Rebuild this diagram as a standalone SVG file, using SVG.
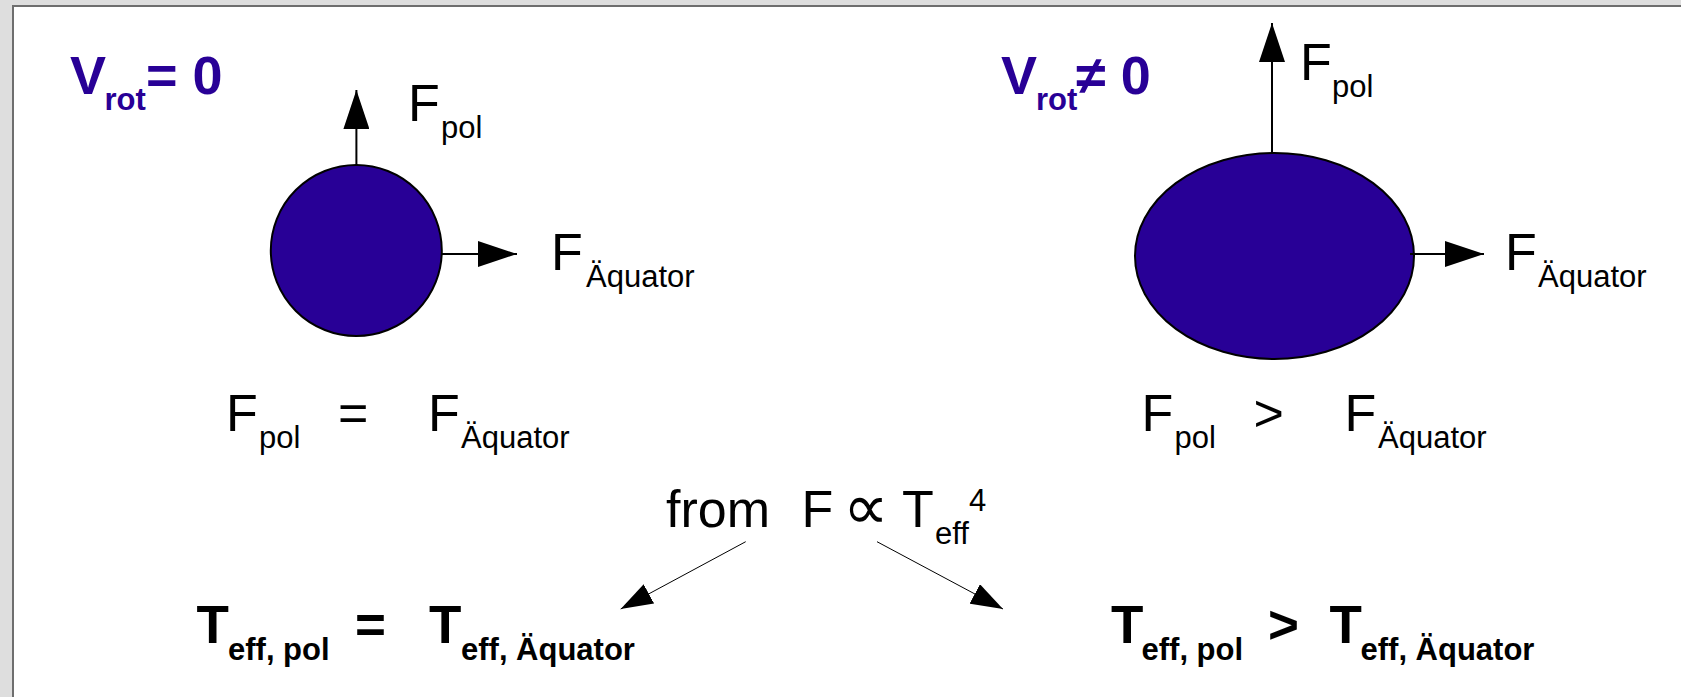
<svg xmlns="http://www.w3.org/2000/svg" width="1681" height="697" viewBox="0 0 1681 697">
  <defs>
    <marker id="bigHead" markerUnits="userSpaceOnUse" markerWidth="39" markerHeight="26" refX="39" refY="13" orient="auto">
      <path d="M0,0 L39,13 L0,26 z" fill="#000"/>
    </marker>
    <marker id="smallHead" markerUnits="userSpaceOnUse" markerWidth="32" markerHeight="22" refX="32" refY="11" orient="auto">
      <path d="M0,0 L32,11 L0,22 z" fill="#000"/>
    </marker>
    <style>
      text { font-family: "Liberation Sans", Arial, sans-serif; fill: #000; }
      .main { font-size: 52px; }
      .sub { font-size: 31px; }
      .title { font-weight: bold; fill: #280096; }
      .bold { font-weight: bold; }
      .prop { font-size: 64px; }
      .star { fill: #280096; stroke: #000; stroke-width: 2; }
      .big { stroke: #000; stroke-width: 2; fill: none; marker-end: url(#bigHead); }
      .thin { stroke: #000; stroke-width: 1; fill: none; marker-end: url(#smallHead); }
    </style>
  </defs>

  <rect x="0" y="0" width="1681" height="697" fill="#dedede"/>
  <rect x="13" y="6" width="1668" height="691" fill="#ffffff"/>
  <path d="M13,697 L13,6 L1681,6" fill="none" stroke="#6e6e6e" stroke-width="2"/>

  <g id="title-left">
    <text class="title" font-size="54" x="70" y="94">V</text>
    <text class="title" font-size="31" x="104.5" y="110">rot</text>
    <text class="title" font-size="54" x="146" y="94">= 0</text>
  </g>

  <g id="title-right">
    <text class="title" font-size="54" x="1001" y="94">V</text>
    <text class="title" font-size="31" x="1036" y="110">rot</text>
    <text class="title" font-size="54" x="1076" y="94">≠ 0</text>
  </g>

  <g id="star-round">
    <circle class="star" cx="356.3" cy="250.5" r="85.5"/>
  </g>

  <g id="star-oblate">
    <ellipse class="star" cx="1274.5" cy="256" rx="139.5" ry="103"/>
  </g>

  <g id="connectors">
    <line class="big" x1="356.4" y1="166" x2="356.4" y2="90"/>
    <line class="big" x1="441" y1="254" x2="517" y2="254"/>
    <line class="big" x1="1272" y1="153" x2="1272" y2="23"/>
    <line class="big" x1="1410" y1="254" x2="1484" y2="254"/>
    <line class="thin" x1="745.7" y1="541.7" x2="620.7" y2="609"/>
    <line class="thin" x1="877" y1="541.7" x2="1003" y2="609"/>
  </g>

  <g id="label-fpol-left">
    <text class="main" x="408" y="121">F</text>
    <text class="sub" x="441" y="137.5">pol</text>
  </g>
  <g id="label-faeq-left">
    <text class="main" x="551" y="270">F</text>
    <text class="sub" x="586" y="287">Äquator</text>
  </g>
  <g id="label-fpol-right">
    <text class="main" x="1300" y="80">F</text>
    <text class="sub" x="1332" y="97">pol</text>
  </g>
  <g id="label-faeq-right">
    <text class="main" x="1505" y="270">F</text>
    <text class="sub" x="1538" y="287">Äquator</text>
  </g>

  <g id="eq-flux-left">
    <text class="main" x="226" y="431">F</text>
    <text class="sub" x="259" y="448">pol</text>
    <text class="main" x="338" y="431">=</text>
    <text class="main" x="428" y="431">F</text>
    <text class="sub" x="461" y="448">Äquator</text>
  </g>

  <g id="eq-flux-right">
    <text class="main" x="1141.5" y="431">F</text>
    <text class="sub" x="1174.5" y="448">pol</text>
    <text class="main" x="1253.5" y="431">&gt;</text>
    <text class="main" x="1344.5" y="431">F</text>
    <text class="sub" x="1378" y="448">Äquator</text>
  </g>

  <g id="law">
    <text class="main" x="666" y="527">from</text>
    <text class="main" x="801.5" y="527">F</text>
    <text class="prop" x="843" y="529">∝</text>
    <text class="main" x="902" y="527">T</text>
    <text class="sub" x="935" y="544">eff</text>
    <text class="sub" x="969" y="511">4</text>
  </g>

  <g id="eq-temp-left">
    <text class="bold" font-size="53" x="196.5" y="643">T</text>
    <text class="bold sub" x="228" y="660">eff, pol</text>
    <text class="bold" font-size="53" x="355" y="643">=</text>
    <text class="bold" font-size="53" x="429" y="643">T</text>
    <text class="bold sub" x="461" y="660">eff, Äquator</text>
  </g>

  <g id="eq-temp-right">
    <text class="bold" font-size="53" x="1111" y="643">T</text>
    <text class="bold sub" x="1141.5" y="660">eff, pol</text>
    <text class="bold" font-size="53" x="1268" y="643">&gt;</text>
    <text class="bold" font-size="53" x="1329.5" y="643">T</text>
    <text class="bold sub" x="1360.5" y="660">eff, Äquator</text>
  </g>
</svg>
